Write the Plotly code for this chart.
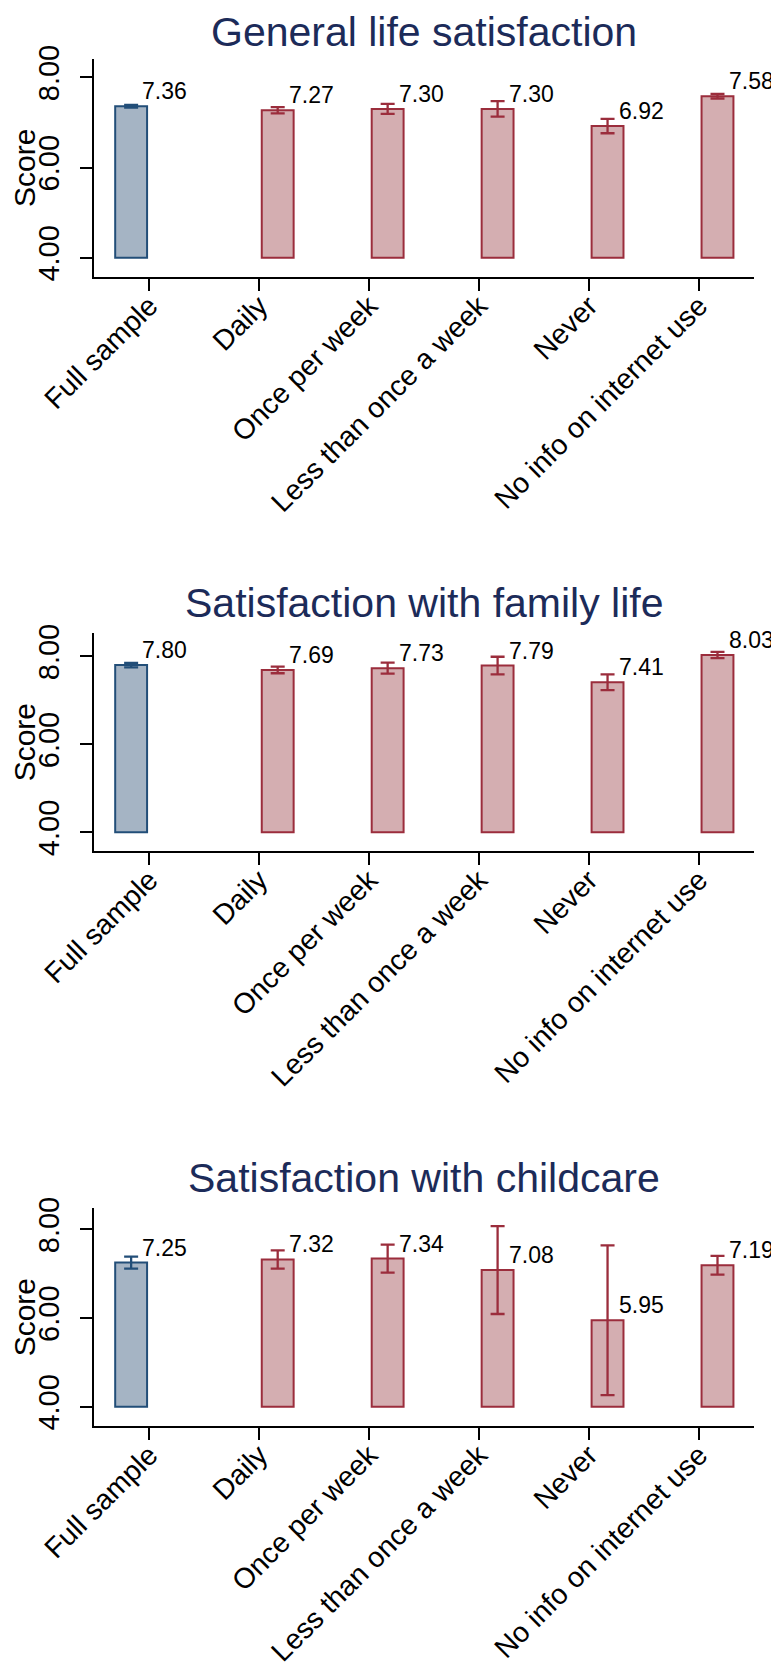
import numpy as np
import plotly.graph_objects as go

# ---------------- data ----------------
CATEGORIES = ["Full sample", "Daily", "Once per week", "Less than once a week",
              "Never", "No info on internet use"]
PANEL_TITLES = ["General life satisfaction", "Satisfaction with family life",
                "Satisfaction with childcare"]
LIFE_MEANS = [7.36, 7.27, 7.30, 7.30, 6.92, 7.58]
LIFE_CI = [0.03, 0.07, 0.11, 0.17, 0.16, 0.05]
FAMILY_MEANS = [7.80, 7.69, 7.73, 7.79, 7.41, 8.03]
FAMILY_CI = [0.05, 0.075, 0.125, 0.20, 0.18, 0.07]
CHILD_MEANS = [7.25, 7.32, 7.34, 7.08, 5.95, 7.19]
CHILD_CI = [0.135, 0.205, 0.315, 0.99, 1.69, 0.21]
Y_TICKS = [4, 6, 8]
Y_TITLE = "Score"
BAR_BASE = 4

PANELS = [(LIFE_MEANS, LIFE_CI), (FAMILY_MEANS, FAMILY_CI), (CHILD_MEANS, CHILD_CI)]

# ---------------- style / layout ----------------
PAGE_OFF = 8                      # default body margin of the html page
W, H = 779 - PAGE_OFF, 1666 - PAGE_OFF
FONT = "Liberation Sans, Arial, sans-serif"
PLOT_X0, PLOT_X1 = 94.3, 754.0    # page pixels
PANEL_TOPS = [59.0, 633.3, 1208.3]
TITLE_GAPS = [27.5, 30, 30]
PANEL_H = 217.7
Y_RANGES = [[3.579, 8.406], [3.575, 8.523], [3.565, 8.474]]
GRID_VALS = [[6, 8], [6, 8], [4, 6, 8]]
FULL_SHIFT, GROUP_SHIFT = -0.165, 0.168
BAR_W = 0.29
BLUE_FILL, BLUE_LINE = "#A5B4C4", "#224E78"
RED_FILL, RED_LINE = "#D4AEB1", "#9B2D3C"
GRID_COLOR = "#E9F1F3"
TITLE_COLOR = "#1C2B59"


def px_x(v):
    return (v - PAGE_OFF) / W


def px_y(v):
    return 1 - (v - PAGE_OFF) / H


fig = go.Figure()
xdom = [px_x(PLOT_X0), px_x(PLOT_X1)]
idx = np.arange(len(CATEGORIES))
pos = idx + np.where(idx == 0, FULL_SHIFT, GROUP_SHIFT)

annotations = []
layout = {}
for i, (means, ci) in enumerate(PANELS):
    n = i + 1
    sfx = "" if n == 1 else str(n)
    xa, ya = "x" + sfx, "y" + sfx
    means = np.array(means, dtype=float)
    ci = np.array(ci, dtype=float)
    top = PANEL_TOPS[i]
    ydom = [px_y(top + PANEL_H), px_y(top)]

    groups = [(slice(0, 1), BLUE_FILL, BLUE_LINE), (slice(1, None), RED_FILL, RED_LINE)]
    for sl, fill, line in groups:
        fig.add_trace(go.Bar(
            x=pos[sl], y=means[sl] - BAR_BASE, base=BAR_BASE, width=BAR_W,
            marker=dict(color=fill, line=dict(color=line, width=2)),
            error_y=dict(type="data", array=ci[sl], color=line, thickness=2.3, width=7),
            xaxis=xa, yaxis=ya, showlegend=False, hoverinfo="skip"))

    for p, m in zip(pos, means):
        annotations.append(dict(
            x=p, y=m, xref=xa, yref=ya, text=f"{m:.2f}", showarrow=False,
            xanchor="left", yanchor="middle", xshift=9, yshift=15,
            font=dict(family=FONT, size=23, color="black")))

    annotations.append(dict(
        x=(xdom[0] + xdom[1]) / 2, y=px_y(top - TITLE_GAPS[i]), xref="paper", yref="paper",
        text=PANEL_TITLES[i], showarrow=False, xanchor="center", yanchor="middle",
        borderpad=0, font=dict(family=FONT, size=41, color=TITLE_COLOR)))

    layout["xaxis" + sfx] = dict(
        domain=xdom, anchor=ya, range=[-0.5, len(CATEGORIES) - 0.5], automargin=False,
        tickmode="array", tickvals=list(idx), ticktext=CATEGORIES, tickangle=-45,
        ticks="outside", ticklen=12, tickwidth=2, tickcolor="black",
        showline=True, linewidth=2, linecolor="black", showgrid=False, zeroline=False,
        ticklabelstandoff=-13,
        tickfont=dict(family=FONT, size=28.5, color="black"))
    layout["yaxis" + sfx] = dict(
        domain=ydom, anchor=xa, range=Y_RANGES[i], automargin=False,
        tickmode="array", tickvals=Y_TICKS, tickformat=".2f", tickangle=-90,
        ticks="outside", ticklen=12, tickwidth=2, tickcolor="black",
        showline=True, linewidth=2, linecolor="black", showgrid=False, zeroline=False,
        tickfont=dict(family=FONT, size=29, color="black"), ticklabelstandoff=10,
        title=dict(text=Y_TITLE, font=dict(family=FONT, size=30, color="black"), standoff=8))
    # overlay axis only for grid lines
    gid = str(n + 3)
    layout["yaxis" + gid] = dict(
        overlaying=ya, anchor=xa, range=Y_RANGES[i], automargin=False, tickmode="array",
        tickvals=GRID_VALS[i], showgrid=True, gridcolor=GRID_COLOR, gridwidth=2.5,
        showticklabels=False, ticks="", showline=False, zeroline=False)

fig.update_layout(
    width=W, height=H, margin=dict(l=0, r=0, t=0, b=0, autoexpand=False),
    paper_bgcolor="white", plot_bgcolor="white", barmode="overlay",
    font=dict(family=FONT), annotations=annotations, **layout)

fig.write_html("out.html")
